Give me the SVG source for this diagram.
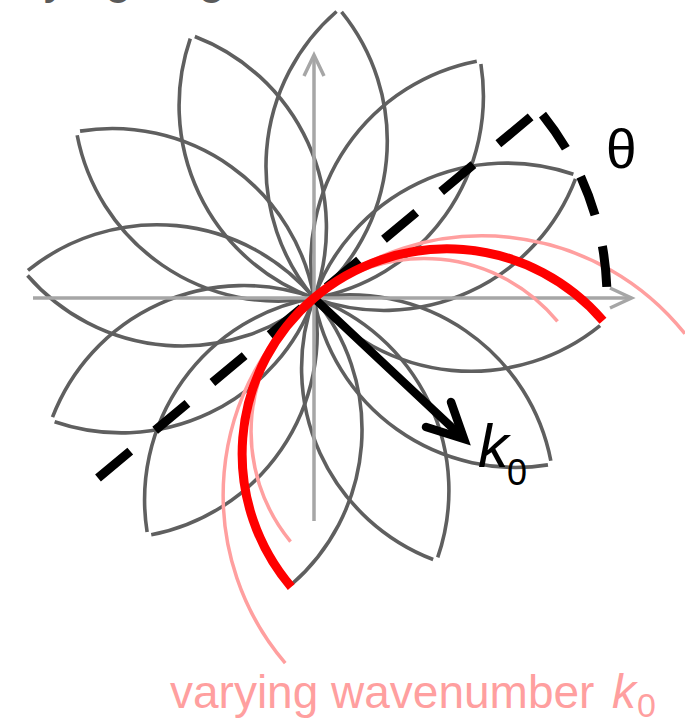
<svg xmlns="http://www.w3.org/2000/svg" xmlns:xlink="http://www.w3.org/1999/xlink" width="685" height="720" viewBox="0 0 685 720">
  <style>
    .petal { fill: none; stroke: #5f5f5f; stroke-width: 3.6; }
    .axis { fill: none; stroke: #a6a6a6; stroke-width: 3.5; }
    .pink { fill: none; stroke: #ff9f9f; stroke-width: 3.5; }
    .red { fill: none; stroke: #ff0000; stroke-width: 9; }
    .dash { fill: none; stroke: #000000; stroke-width: 9; }
    .arrow { fill: none; stroke: #000000; stroke-width: 8.5; stroke-linecap: round; }
    .lbl { font-family: "Liberation Sans", Arial, sans-serif; }
  </style>
  <defs>
    <path id="petalArc" d="M515.42,502.97 A205,205 0 0 1 515.42,93.03"/>
  </defs>

  <text id="top-label" class="lbl" x="-23" y="-7" font-size="48" fill="#5a5a5a">varying angle</text>

  <g id="rosette">
    <use xlink:href="#petalArc" href="#petalArc" class="petal" transform="rotate(50 314 298)"/>
    <use xlink:href="#petalArc" href="#petalArc" class="petal" transform="rotate(80 314 298)"/>
    <use xlink:href="#petalArc" href="#petalArc" class="petal" transform="rotate(110 314 298)"/>
    <use xlink:href="#petalArc" href="#petalArc" class="petal" transform="rotate(140 314 298)"/>
    <use xlink:href="#petalArc" href="#petalArc" class="petal" transform="rotate(170 314 298)"/>
    <use xlink:href="#petalArc" href="#petalArc" class="petal" transform="rotate(200 314 298)"/>
    <use xlink:href="#petalArc" href="#petalArc" class="petal" transform="rotate(230 314 298)"/>
    <use xlink:href="#petalArc" href="#petalArc" class="petal" transform="rotate(260 314 298)"/>
    <use xlink:href="#petalArc" href="#petalArc" class="petal" transform="rotate(290 314 298)"/>
    <use xlink:href="#petalArc" href="#petalArc" class="petal" transform="rotate(320 314 298)"/>
    <use xlink:href="#petalArc" href="#petalArc" class="petal" transform="rotate(350 314 298)"/>
    <use xlink:href="#petalArc" href="#petalArc" class="petal" transform="rotate(20 314 298)"/>
  </g>

  <g id="axes">
    <path class="axis" d="M33,298 H630"/>
    <path class="axis" d="M610,288 L631.5,298 L610,308"/>
    <path class="axis" d="M314,521 V57"/>
    <path class="axis" d="M304,76 L314,55 L324,76"/>
  </g>

  <g id="wavenumber-arcs">
    <path class="pink" d="M487,471 A173,173 0 0 1 487,125" transform="rotate(50.5 314 298)"/>
    <path class="pink" d="M573,557 A259,259 0 1 1 582.04,39.16" transform="rotate(49.5 314 298)"/>
  </g>

  <g id="connectors">
    <path class="dash" d="M98,478 L536.5,112" stroke-dasharray="42 32.5"/>
    <path class="dash" d="M542.5,114.6 A293,293 0 0 1 606.8,287.3" stroke-dasharray="41 32"/>
    <g id="k0-arrow">
      <path class="arrow" d="M316,300 L461,436"/>
      <path class="arrow" d="M451,402 L464,439 L426,427" stroke-linejoin="miter"/>
    </g>
  </g>

  <g id="ewald-arc">
    <path class="red" d="M519,503 A205,205 0 0 1 519,93" transform="rotate(49.5 314 298)"/>
  </g>

  <g id="labels">
    <text class="lbl" x="606" y="168" font-size="55" fill="#000000">θ</text>
    <text class="lbl" x="478" y="467" font-size="61" font-style="italic" fill="#000000">k</text>
    <text class="lbl" x="507" y="485" font-size="36" fill="#000000">0</text>
    <text class="lbl" x="170" y="708" font-size="46" fill="#ff9f9f">varying wavenumber <tspan x="612" font-style="italic" font-size="48">k</tspan><tspan x="637" y="717" font-size="34">0</tspan></text>
  </g>
</svg>
